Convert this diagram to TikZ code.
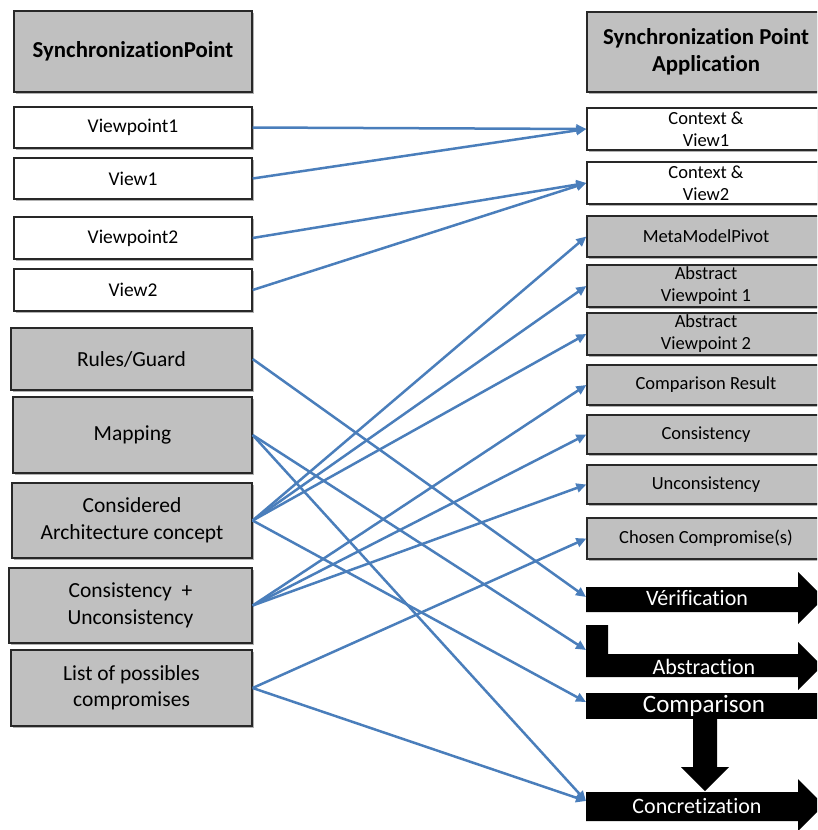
\documentclass[tikz,border=0pt]{standalone}
\usepackage{fontspec}
\setmainfont{Carlito}[Ligatures={NoCommon}]
\usetikzlibrary{arrows.meta,shadows}
\definecolor{boxgray}{RGB}{192,192,192}
\definecolor{linkblue}{RGB}{74,126,187}
\definecolor{boxline}{RGB}{40,40,40}
\begin{document}
\begin{tikzpicture}[x=1pt,y=-1pt,
  basebox/.style={draw=boxline, line width=1.3pt, inner sep=0pt, align=center, text=black,
    drop shadow={shadow xshift=1.5pt,shadow yshift=-1.5pt,opacity=0.3,fill=black}},
  gbox/.style={basebox, fill=boxgray, font=\fontsize{21.5}{26.5}\selectfont},
  wbox/.style={basebox, fill=white, font=\fontsize{19.5}{23}\selectfont},
  hbox/.style={basebox, fill=boxgray, font=\bfseries\fontsize{22.8}{27}\selectfont},
  rbox/.style={basebox, fill=boxgray, font=\fontsize{18.5}{22}\selectfont},
  rwbox/.style={basebox, fill=white, font=\fontsize{18.5}{22}\selectfont},
  link/.style={draw=linkblue, line width=2.5pt, -{Triangle[length=10pt,width=9pt]}},
  bigarrow/.style={fill=black},
  arrtext/.style={text=white, inner sep=0pt, font=\fontsize{22}{26}\selectfont}
]
\useasboundingbox (0,0) rectangle (817,830);
\clip (0,0) rectangle (817,830);

% left column
\node[hbox, minimum width=238pt, minimum height=81pt] (sp) at (133,51.5) {SynchronizationPoint};
\node[wbox, minimum width=238pt, minimum height=41pt] (vp1) at (133,127.5) {Viewpoint1};
\node[wbox, minimum width=238pt, minimum height=41pt] (v1) at (133,178.5) {View1};
\node[wbox, minimum width=238pt, minimum height=42pt] (vp2) at (133,238) {Viewpoint2};
\node[wbox, minimum width=238pt, minimum height=42pt] (v2) at (133,290) {View2};
\node[gbox, minimum width=241pt, minimum height=62pt] (rules) at (131.5,359) {Rules/Guard};
\node[gbox, minimum width=239pt, minimum height=76pt] (map) at (132.5,435) {Mapping};
\node[gbox, minimum width=240pt, minimum height=75pt] (cons) at (132,520.5) {Considered\\Architecture concept};
\node[gbox, minimum width=243pt, minimum height=75pt] (cu) at (130.5,605.5) {Consistency \ +\\Unconsistency};
\node[gbox, minimum width=241pt, minimum height=76pt] (list) at (131.5,688) {List of possibles\\compromises};

% right column
\node[hbox, minimum width=238pt, minimum height=80pt] (hdr) at (706,52) {Synchronization Point\\Application};
\node[rwbox, minimum width=238pt, minimum height=42pt] (cv1) at (706,129) {Context \&\\View1};
\node[rwbox, minimum width=238pt, minimum height=42pt] (cv2) at (706,183) {Context \&\\View2};
\node[rbox, minimum width=238pt, minimum height=41pt] (mmp) at (706,236.5) {MetaModelPivot};
\node[rbox, minimum width=238pt, minimum height=42pt] (avp1) at (706,286) {Abstract\\Viewpoint 1};
\node[rbox, minimum width=238pt, minimum height=42pt] (avp2) at (706,334) {Abstract\\Viewpoint 2};
\node[rbox, minimum width=238pt, minimum height=40pt] (cr) at (706,385) {Comparison Result};
\node[rbox, minimum width=238pt, minimum height=39pt] (con) at (706,434.5) {Consistency};
\node[rbox, minimum width=238pt, minimum height=39pt] (unc) at (706,484.5) {Unconsistency};
\node[rbox, minimum width=238pt, minimum height=41pt] (cho) at (706,538.5) {Chosen Compromise(s)};

% black process arrows
\fill[bigarrow] (586,587) -- (798,587) -- (798,572) -- (824,598) -- (798,624) -- (798,612) -- (586,612) -- cycle;
\node[arrtext] (verif) at (697,598) {Vérification};
\coordinate (verifW) at (586,597);

\fill[bigarrow] (586,625) -- (608,625) -- (608,654) -- (798,654) -- (798,642) -- (822,666) -- (798,690) -- (798,677) -- (586,677) -- cycle;
\node[arrtext] (abstr) at (704,667) {Abstraction};
\coordinate (abstrW) at (586,650);

\fill[bigarrow] (586,693) rectangle (830,719);
\node[arrtext, font=\fontsize{25}{29}\selectfont] (compar) at (704,706) {Comparison};
\coordinate (comparW) at (586,702);

\fill[bigarrow] (693,719) -- (717,719) -- (717,767) -- (729,767) -- (705,791) -- (681,767) -- (693,767) -- cycle;

\fill[bigarrow] (586,792) -- (798,792) -- (798,779) -- (824,805) -- (798,831) -- (798,821) -- (586,821) -- cycle;
\node[arrtext] (concr) at (697,806) {Concretization};
\coordinate (concrW) at (586,801);

% connectors
\draw[link] (vp1.east) -- (cv1.west);
\draw[link] (v1.east) -- (cv1.west);
\draw[link] (vp2.east) -- (cv2.west);
\draw[link] (v2.east) -- (cv2.west);
\draw[link] (rules.east) -- (verifW);
\draw[link] (map.east) -- (abstrW);
\draw[link] (map.east) -- (concrW);
\draw[link] (cons.east) -- (mmp.west);
\draw[link] (cons.east) -- (avp1.west);
\draw[link] (cons.east) -- (avp2.west);
\draw[link] (cons.east) -- (comparW);
\draw[link] (cu.east) -- (cr.west);
\draw[link] (cu.east) -- (con.west);
\draw[link] (cu.east) -- (unc.west);
\draw[link] (list.east) -- (cho.west);
\draw[link] (list.east) -- (concrW);
\end{tikzpicture}
\end{document}
